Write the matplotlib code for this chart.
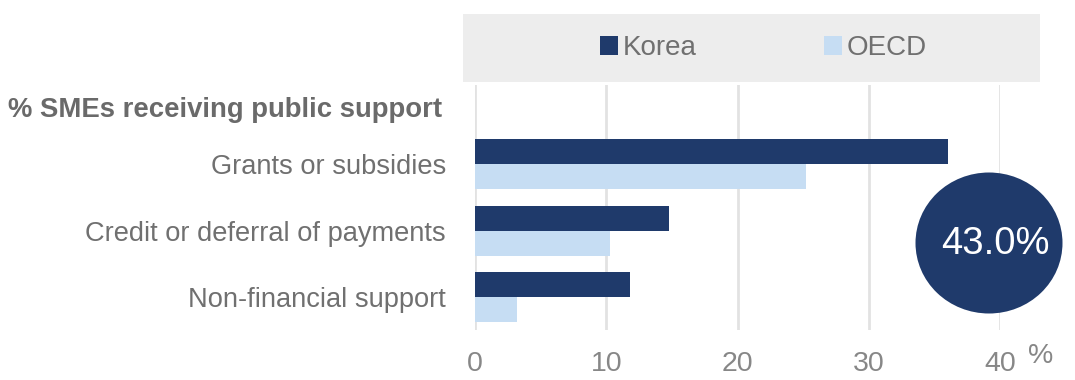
import matplotlib
matplotlib.use("Agg")
import matplotlib.pyplot as plt
from matplotlib.patches import Rectangle, Ellipse, Patch
import numpy as np

# --- data -------------------------------------------------------------
categories = ["Grants or subsidies", "Credit or deferral of payments", "Non-financial support"]
korea = [36.0, 14.8, 11.8]
oecd = [25.2, 10.3, 3.2]
series_names = ["Korea", "OECD"]
xticks = [0, 10, 20, 30, 40]
header = "% SMEs receiving public support"
total_share = 43.0

# --- style ------------------------------------------------------------
KOREA_C = "#1f3a6b"
OECD_C = "#c6ddf3"
GRID_C = "#e2e2e2"
TEXT_C = "#707070"
LEG_BG = "#ededed"
FONT = ["Liberation Sans", "DejaVu Sans"]

W, H = 1075, 380
fig = plt.figure(figsize=(W / 100, H / 100), dpi=100)


def fx(px):
    return px / W


def fy(py):
    return 1 - py / H


ax = fig.add_axes([fx(475), fy(330), fx(1000) - fx(475), fy(85) - fy(330)])

y = np.arange(len(categories))
bh = 0.376
ax.barh(y - bh / 2, korea, height=bh, color=KOREA_C, zorder=3)
ax.barh(y + bh / 2, oecd, height=bh, color=OECD_C, zorder=3)

ax.set_xlim(0, 40)
ax.set_ylim(2.496, -1.188)
ax.set_xticks(xticks)
ax.set_xticklabels([str(t) for t in xticks], family=FONT, fontsize=20.5, color="#878787")
ax.set_yticks(y)
ax.set_yticklabels(categories, family=FONT, fontsize=19.6, color=TEXT_C)
ax.tick_params(axis="x", length=0, pad=15)
ax.tick_params(axis="y", length=0, pad=21)
ax.grid(axis="x", color=GRID_C, linewidth=2, zorder=0)
ax.set_axisbelow(True)
for s in ax.spines.values():
    s.set_visible(False)

# header and unit
fig.text(fx(442), fy(110), header, ha="right", va="center", family=FONT,
         fontsize=19.8, fontweight="bold", color="#6a6a6a")
fig.text(fx(1041), fy(356), "%", ha="center", va="center", family=FONT,
         fontsize=20.5, color="#878787")

# legend band
fig.add_artist(Rectangle((fx(463), fy(82)), fx(1040) - fx(463), fy(14) - fy(82),
                         transform=fig.transFigure, facecolor=LEG_BG, edgecolor="none", zorder=0))
handles = [Patch(facecolor=KOREA_C, edgecolor="none"), Patch(facecolor=OECD_C, edgecolor="none")]
leg = fig.legend(handles, series_names, loc="center",
                 bbox_to_anchor=(fx(475), fy(82), fx(1040) - fx(463), fy(14) - fy(82)),
                 ncol=2, frameon=False, prop={"family": FONT, "size": 20},
                 handlelength=0.65, handleheight=0.65, handletextpad=0.15,
                 columnspacing=4.6, borderpad=0, borderaxespad=0)
for t in leg.get_texts():
    t.set_color(TEXT_C)

# highlight bubble
bubble = Ellipse((fx(989), fy(243)), fx(147), 141 / H, transform=fig.transFigure,
                 facecolor=KOREA_C, edgecolor="none", zorder=5)
fig.add_artist(bubble)
fig.text(fx(995), fy(244), f"{total_share:.1f}%", ha="center", va="center",
         family=FONT, fontsize=27.5, color="white", zorder=6)

fig.savefig("out.png", dpi=100)
